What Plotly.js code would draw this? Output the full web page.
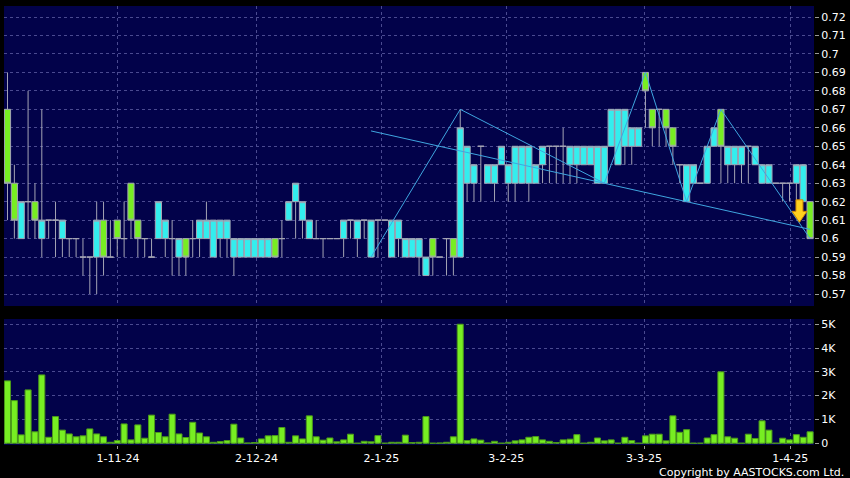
<!DOCTYPE html>
<html><head><meta charset="utf-8">
<script src="https://cdn.plot.ly/plotly-3.0.1.min.js"></script>
<style>html,body{margin:0;padding:0;background:#000;}#chart{width:850px;height:478px;}</style>
</head><body><div id="chart"></div>
<script>
// ---- data ----
const openP  = [0.67,0.63,0.60,0.62,0.62,0.60,0.61,0.61,0.60,0.60,0.60,0.59,0.59,0.59,0.61,0.59,0.61,0.60,0.63,0.61,
                0.60,0.59,0.60,0.60,0.60,0.59,0.60,0.60,0.60,0.60,0.59,0.60,0.60,0.59,0.59,0.59,0.59,0.59,0.59,0.60,
                0.60,0.61,0.62,0.61,0.60,0.60,0.60,0.60,0.60,0.60,0.61,0.60,0.61,0.59,0.61,0.61,0.59,0.60,0.59,0.59,
                0.59,0.58,0.60,0.59,0.60,0.60,0.59,0.63,0.63,0.65,0.63,0.63,0.64,0.63,0.63,0.63,0.63,0.63,0.64,0.65,
                0.65,0.65,0.64,0.64,0.64,0.64,0.63,0.63,0.65,0.64,0.65,0.65,0.65,0.69,0.67,0.67,0.67,0.66,0.64,0.62,
                0.63,0.63,0.63,0.65,0.67,0.64,0.64,0.64,0.65,0.64,0.63,0.63,0.63,0.63,0.63,0.63,0.62,0.62];
const highP  = [0.69,0.64,0.62,0.68,0.63,0.67,0.61,0.62,0.61,0.60,0.60,0.60,0.59,0.62,0.62,0.61,0.61,0.62,0.63,0.61,
                0.60,0.60,0.62,0.61,0.61,0.60,0.60,0.61,0.61,0.62,0.61,0.61,0.61,0.60,0.60,0.60,0.60,0.60,0.60,0.60,
                0.61,0.62,0.63,0.62,0.61,0.61,0.60,0.60,0.60,0.61,0.61,0.61,0.61,0.61,0.61,0.61,0.61,0.61,0.60,0.60,
                0.60,0.59,0.60,0.59,0.60,0.60,0.67,0.65,0.64,0.65,0.64,0.64,0.65,0.64,0.65,0.65,0.65,0.64,0.65,0.65,
                0.65,0.66,0.65,0.65,0.65,0.65,0.65,0.65,0.67,0.67,0.67,0.66,0.66,0.69,0.67,0.67,0.67,0.66,0.64,0.64,
                0.64,0.63,0.65,0.66,0.67,0.65,0.65,0.65,0.65,0.65,0.64,0.64,0.63,0.63,0.63,0.64,0.64,0.62];
const lowP   = [0.61,0.60,0.60,0.60,0.60,0.59,0.60,0.59,0.59,0.59,0.59,0.58,0.57,0.57,0.58,0.59,0.59,0.59,0.60,0.59,
                0.59,0.59,0.60,0.59,0.58,0.58,0.58,0.59,0.59,0.60,0.59,0.59,0.59,0.58,0.59,0.59,0.59,0.59,0.59,0.59,
                0.59,0.61,0.60,0.60,0.60,0.60,0.59,0.60,0.60,0.59,0.60,0.59,0.60,0.59,0.59,0.61,0.59,0.59,0.59,0.59,
                0.58,0.58,0.58,0.59,0.58,0.58,0.59,0.62,0.62,0.62,0.63,0.62,0.64,0.62,0.62,0.63,0.62,0.63,0.63,0.63,
                0.63,0.63,0.63,0.63,0.64,0.64,0.63,0.63,0.65,0.64,0.64,0.64,0.65,0.66,0.65,0.65,0.65,0.64,0.63,0.62,
                0.63,0.63,0.63,0.65,0.63,0.63,0.63,0.63,0.63,0.64,0.63,0.63,0.63,0.62,0.62,0.62,0.62,0.60];
const closeP = [0.63,0.61,0.62,0.62,0.61,0.61,0.61,0.61,0.61,0.60,0.60,0.59,0.59,0.61,0.59,0.59,0.60,0.60,0.61,0.60,
                0.60,0.59,0.62,0.61,0.60,0.60,0.59,0.60,0.61,0.61,0.61,0.61,0.61,0.60,0.60,0.60,0.60,0.60,0.60,0.59,
                0.60,0.62,0.63,0.62,0.61,0.60,0.60,0.60,0.60,0.61,0.61,0.61,0.61,0.61,0.61,0.61,0.61,0.61,0.60,0.60,
                0.60,0.59,0.59,0.59,0.60,0.59,0.66,0.65,0.64,0.65,0.64,0.64,0.65,0.64,0.65,0.65,0.65,0.64,0.65,0.65,
                0.65,0.65,0.65,0.65,0.65,0.65,0.65,0.65,0.67,0.67,0.67,0.66,0.66,0.68,0.66,0.67,0.66,0.65,0.64,0.64,
                0.64,0.63,0.65,0.66,0.65,0.65,0.65,0.65,0.65,0.65,0.64,0.64,0.63,0.63,0.63,0.64,0.64,0.60];
// volume in thousands
const volumeK = [2.62,1.79,0.35,2.24,0.48,2.87,0.25,1.12,0.55,0.39,0.27,0.31,0.60,0.39,0.27,0.04,0.11,0.81,0.14,0.77,
                 0.21,1.18,0.45,0.27,1.22,0.39,0.24,0.88,0.43,0.27,0.04,0.07,0.11,0.80,0.22,0.01,0.03,0.18,0.31,0.32,
                 0.66,0.04,0.31,0.18,1.15,0.27,0.13,0.22,0.06,0.14,0.38,0.00,0.08,0.06,0.32,0.00,0.04,0.04,0.34,0.03,
                 0.04,1.12,0.00,0.01,0.04,0.27,5.00,0.11,0.18,0.13,0.01,0.08,0.00,0.04,0.10,0.14,0.25,0.28,0.14,0.08,
                 0.03,0.14,0.17,0.36,0.00,0.04,0.22,0.10,0.14,0.00,0.25,0.11,0.00,0.31,0.38,0.38,0.10,1.15,0.46,0.57,
                 0.00,0.00,0.22,0.36,3.00,0.27,0.21,0.00,0.38,0.20,0.94,0.55,0.00,0.21,0.14,0.36,0.25,0.48];
const dateTickPos  = [16.1, 36.3, 54.5, 72.7, 92.8, 114.1];
const dateTickText = ['1-11-24','2-12-24','2-1-25','3-2-25','3-3-25','1-4-25'];
const priceTicks = [0.57,0.58,0.59,0.60,0.61,0.62,0.63,0.64,0.65,0.66,0.67,0.68,0.69,0.70,0.71,0.72];
const volTicks = [0,1,2,3,4,5];
const volTickText = ['0','1K','2K','3K','4K','5K'];
// zig-zag pivots and trend line
const zigIdx   = [53, 66, 87, 93, 99, 104, 117];
const zigPrice = [0.59, 0.67, 0.63, 0.69, 0.62, 0.67, 0.60];
const trendIdx   = [53, 117];
const trendPrice = [0.6583, 0.605];
// sell-signal arrow anchor
const signalIdx = 115.45, signalPrice = 0.621;

const idx = openP.map((_, i) => i);

const traces = [
  {type:'candlestick', x: idx, open: openP, high: highP, low: lowP, close: closeP,
   xaxis:'x', yaxis:'y', whiskerwidth:0,
   increasing:{fillcolor:'#33EEEE', line:{color:'#a4a4b4', width:1}},
   decreasing:{fillcolor:'#77EE22', line:{color:'#a4a4b4', width:1}},
   hoverinfo:'skip', showlegend:false},
  {type:'scatter', mode:'lines', x: trendIdx, y: trendPrice, xaxis:'x', yaxis:'y',
   line:{color:'#3fa6e0', width:1}, hoverinfo:'skip', showlegend:false},
  {type:'scatter', mode:'lines', x: zigIdx, y: zigPrice, xaxis:'x', yaxis:'y',
   line:{color:'#3fa6e0', width:1}, hoverinfo:'skip', showlegend:false},
  {type:'bar', x: idx, y: volumeK, xaxis:'x', yaxis:'y2',
   marker:{color:'#77EE22', line:{color:'#4c9a1a', width:1}},
   hoverinfo:'skip', showlegend:false}
];

// arrow shape (pixel sizes converted to data units)
const pxX = 1/6.86, pxY = 0.01/18.47;
const ax = signalIdx, ay = signalPrice;
const arrowPath = 'M ' + (ax-3.5*pxX) + ',' + ay +
  ' L ' + (ax+3.5*pxX) + ',' + ay +
  ' L ' + (ax+3.5*pxX) + ',' + (ay-11.5*pxY) +
  ' L ' + (ax+7.5*pxX) + ',' + (ay-11.5*pxY) +
  ' L ' + ax + ',' + (ay-22.5*pxY) +
  ' L ' + (ax-7.5*pxX) + ',' + (ay-11.5*pxY) +
  ' L ' + (ax-3.5*pxX) + ',' + (ay-11.5*pxY) + ' Z';

const gridCol = '#4a4a90';
const tickFont = {family:'DejaVu Sans, Verdana, sans-serif', size:11, color:'#ffffff'};

const layout = {
  width:850, height:478,
  margin:{l:4, r:36, t:6, b:33},
  paper_bgcolor:'#000000', plot_bgcolor:'#02024a',
  boxgap:0.1, boxgroupgap:0, bargap:0.12,
  showlegend:false, hovermode:false,
  xaxis:{domain:[0,1], range:[-0.51,117.57], anchor:'y2',
    tickmode:'array', tickvals:dateTickPos, ticktext:dateTickText,
    ticks:'outside', ticklen:3, tickcolor:'#9a9a9a', tickfont:tickFont,
    showgrid:true, gridcolor:gridCol, griddash:'3px,3px', gridwidth:1,
    zeroline:false, showline:false, rangeslider:{visible:false}, fixedrange:true},
  yaxis:{domain:[0.3166,1], range:[0.5635,0.72596], side:'right',
    tickmode:'array', tickvals:priceTicks, ticktext:priceTicks.map(v => String(+v.toFixed(2))),
    ticks:'outside', ticklen:4, tickcolor:'#9a9a9a', tickfont:tickFont,
    showgrid:true, gridcolor:gridCol, griddash:'3px,3px', gridwidth:1,
    zeroline:false, showline:false, fixedrange:true},
  yaxis2:{domain:[0,0.287], range:[-0.075,5.22], side:'right', anchor:'x',
    tickmode:'array', tickvals:volTicks, ticktext:volTickText,
    ticks:'outside', ticklen:4, tickcolor:'#9a9a9a', tickfont:tickFont,
    showgrid:true, gridcolor:gridCol, griddash:'3px,3px', gridwidth:1,
    zeroline:false, showline:false, fixedrange:true},
  shapes:[{type:'path', xref:'x', yref:'y', path: arrowPath,
    fillcolor:'#FFD01E', line:{color:'#D08A00', width:1}}],
  annotations:[{xref:'paper', yref:'paper', x:1.0395, y:-0.0635, xanchor:'right', yanchor:'middle',
    text:'Copyright by AASTOCKS.com Ltd.', showarrow:false,
    font:{family:'DejaVu Sans, Verdana, sans-serif', size:11, color:'#ffffff'}}]
};

Plotly.newPlot('chart', traces, layout, {staticPlot:true, displayModeBar:false});
</script></body></html>
